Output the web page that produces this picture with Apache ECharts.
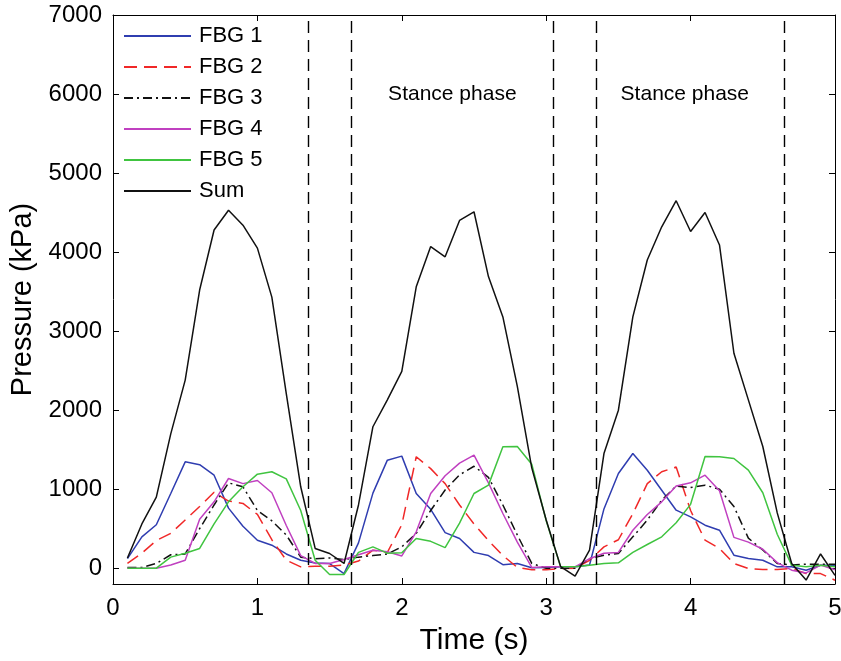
<!DOCTYPE html>
<html>
<head>
<meta charset="utf-8">
<script src="https://cdn.jsdelivr.net/npm/echarts@6/dist/echarts.min.js"></script>
<style>
html,body{margin:0;padding:0;background:#fff;}
#chart{width:841px;height:661px;}
</style>
</head>
<body>
<div id="chart"></div>
<script>
const times = [0.1,0.2,0.3,0.4,0.5,0.6,0.7,0.8,0.9,1.0,
  1.1,1.2,1.3,1.4,1.5,1.6,1.7,1.8,1.9,2.0,
  2.1,2.2,2.3,2.4,2.5,2.6,2.7,2.8,2.9,3.0,
  3.1,3.2,3.3,3.4,3.5,3.6,3.7,3.8,3.9,4.0,
  4.1,4.2,4.3,4.4,4.5,4.6,4.7,4.8,4.9,5.0];

const fbg1 = [122,397,550,945,1346,1310,1177,760,530,354,
  291,180,100,65,59,-68,320,950,1367,1418,
  945,745,450,375,200,160,45,59,5,8,
  17,17,40,750,1198,1452,1240,987,734,650,
  544,481,165,122,101,17,17,-25,38,38];

const fbg2 = [60,190,350,440,610,780,960,850,820,680,
  360,101,17,25,25,40,90,228,200,550,
  1410,1260,1070,800,560,350,160,10,-20,-20,
  -5,0,100,270,360,690,1070,1220,1280,730,
  354,250,59,-5,-17,-17,-5,-68,-68,-152];

const fbg3 = [10,10,60,170,180,500,800,1080,1030,730,
  600,420,140,120,130,110,140,160,180,270,
  440,730,990,1180,1290,1150,800,420,60,0,
  0,0,120,165,186,397,608,861,1040,1020,
  1050,1000,780,380,230,60,40,50,50,50];

const fbg4 = [0,0,0,40,100,620,840,1135,1070,1110,
  955,540,160,60,60,110,170,228,207,155,
  460,945,1170,1330,1430,1080,692,330,10,17,
  17,17,120,190,200,480,680,840,1040,1080,
  1177,980,390,330,240,70,-25,-60,40,-20];

const fbg5 = [0,0,0,140,190,250,560,840,1030,1190,
  1220,1130,730,100,-80,-80,200,270,190,195,
  376,340,260,570,945,1051,1536,1540,1315,600,
  17,17,38,59,68,200,300,397,576,808,
  1414,1410,1388,1240,955,430,38,17,38,17];

const sumValues = [130,560,900,1700,2380,3520,4280,4530,4340,4050,
  3430,2210,1030,250,186,60,800,1790,2130,2490,
  3560,4070,3940,4400,4510,3690,3180,2300,1270,610,
  20,-100,230,1450,2000,3180,3900,4320,4650,4260,
  4500,4090,2720,2130,1540,700,60,-150,180,-90];

const seriesNames = ['FBG 1','FBG 2','FBG 3','FBG 4','FBG 5','Sum'];
const phaseBoundaries = [1.35, 1.65, 3.05, 3.35, 4.65];
const phaseLabels = ['Stance phase', 'Stance phase'];
const phaseLabelPos = [[2.35, 6000], [3.96, 6000]];
const yTicks = [0,1000,2000,3000,4000,5000,6000,7000];
const xTicks = [0,1,2,3,4,5];

const FONT = "'Liberation Sans', Arial, Helvetica, sans-serif";
const toPairs = arr => arr.map((v, i) => [times[i], v]);

const styles = [
  {color:'#2f3db0', type:'solid'},
  {color:'#f02828', type:[13,7]},
  {color:'#111111', type:[9,4,2,4]},
  {color:'#c040c0', type:'solid'},
  {color:'#40c440', type:'solid'},
  {color:'#111111', type:'solid'}
];
const dataSets = [fbg1, fbg2, fbg3, fbg4, fbg5, sumValues];

const lineSeries = dataSets.map((d, i) => ({
  name: seriesNames[i],
  type: 'line',
  data: toPairs(d),
  symbol: 'none',
  showSymbol: false,
  silent: true,
  z: 3,
  lineStyle: {color: styles[i].color, width: 1.5, type: styles[i].type},
  itemStyle: {color: styles[i].color}
}));

lineSeries[5].markLine = {
  silent: true,
  symbol: ['none','none'],
  label: {show: false},
  lineStyle: {color:'#000', type:[12,7], width:1.4},
  data: phaseBoundaries.map(x => ({xAxis: x}))
};

const textSeries = {
  type: 'scatter',
  data: phaseLabelPos.map((p, i) => ({value: p, name: phaseLabels[i]})),
  symbolSize: 0,
  silent: true,
  itemStyle: {opacity: 1},
  label: {
    show: true, position: 'inside', formatter: p => p.name, opacity: 1,
    color: '#000', fontSize: 21, fontFamily: FONT, textBorderWidth: 0
  }
};

const commonX = {
  type: 'value', min: 0, max: 5, interval: 1,
  splitLine: {show:false},
  axisLine: {show:true, onZero:false, lineStyle:{color:'#000', width:1}},
  axisTick: {show:true, inside:true, length:6, lineStyle:{color:'#000'}}
};
const commonY = {
  type: 'value', min: -200, max: 7000,
  splitLine: {show:false},
  axisLine: {show:true, onZero:false, lineStyle:{color:'#000', width:1}},
  axisTick: {show:true, inside:true, length:6, customValues: yTicks, lineStyle:{color:'#000'}}
};

const chart = echarts.init(document.getElementById('chart'), null, {renderer:'canvas'});
chart.setOption({
  animation: false,
  backgroundColor: '#fff',
  grid: {left:113, right:6, top:15, bottom:77, containLabel:false, outerBoundsMode:'none'},
  legend: {
    data: seriesNames,
    orient: 'vertical',
    left: 118, top: 20,
    itemWidth: 67, itemHeight: 14, itemGap: 9,
    itemStyle: {opacity: 0},
    textStyle: {fontSize: 22, fontFamily: FONT, color:'#000', lineHeight: 22, padding:[0,0,0,3]},
    selectedMode: false
  },
  xAxis: [
    Object.assign({}, commonX, {
      position:'bottom',
      name: 'Time (s)', nameLocation:'middle', nameGap: 42,
      nameTextStyle: {fontSize: 30, fontFamily: FONT, color:'#000'},
      axisLabel: {show:true, margin: 12, fontSize: 24, fontFamily: FONT, color:'#000', customValues: xTicks,
        formatter: v => String(v)}
    }),
    Object.assign({}, commonX, {position:'top', axisLabel:{show:false}})
  ],
  yAxis: [
    Object.assign({}, commonY, {
      position:'left',
      name: 'Pressure (kPa)', nameLocation:'middle', nameGap: 72, nameRotate: 90,
      nameTextStyle: {fontSize: 29, fontFamily: FONT, color:'#000'},
      axisLabel: {show:true, margin: 11, fontSize: 24, fontFamily: FONT, color:'#000', customValues: yTicks,
        formatter: v => String(v)}
    }),
    Object.assign({}, commonY, {position:'right', axisLabel:{show:false}})
  ],
  series: lineSeries.concat([textSeries])
});
</script>
</body>
</html>
